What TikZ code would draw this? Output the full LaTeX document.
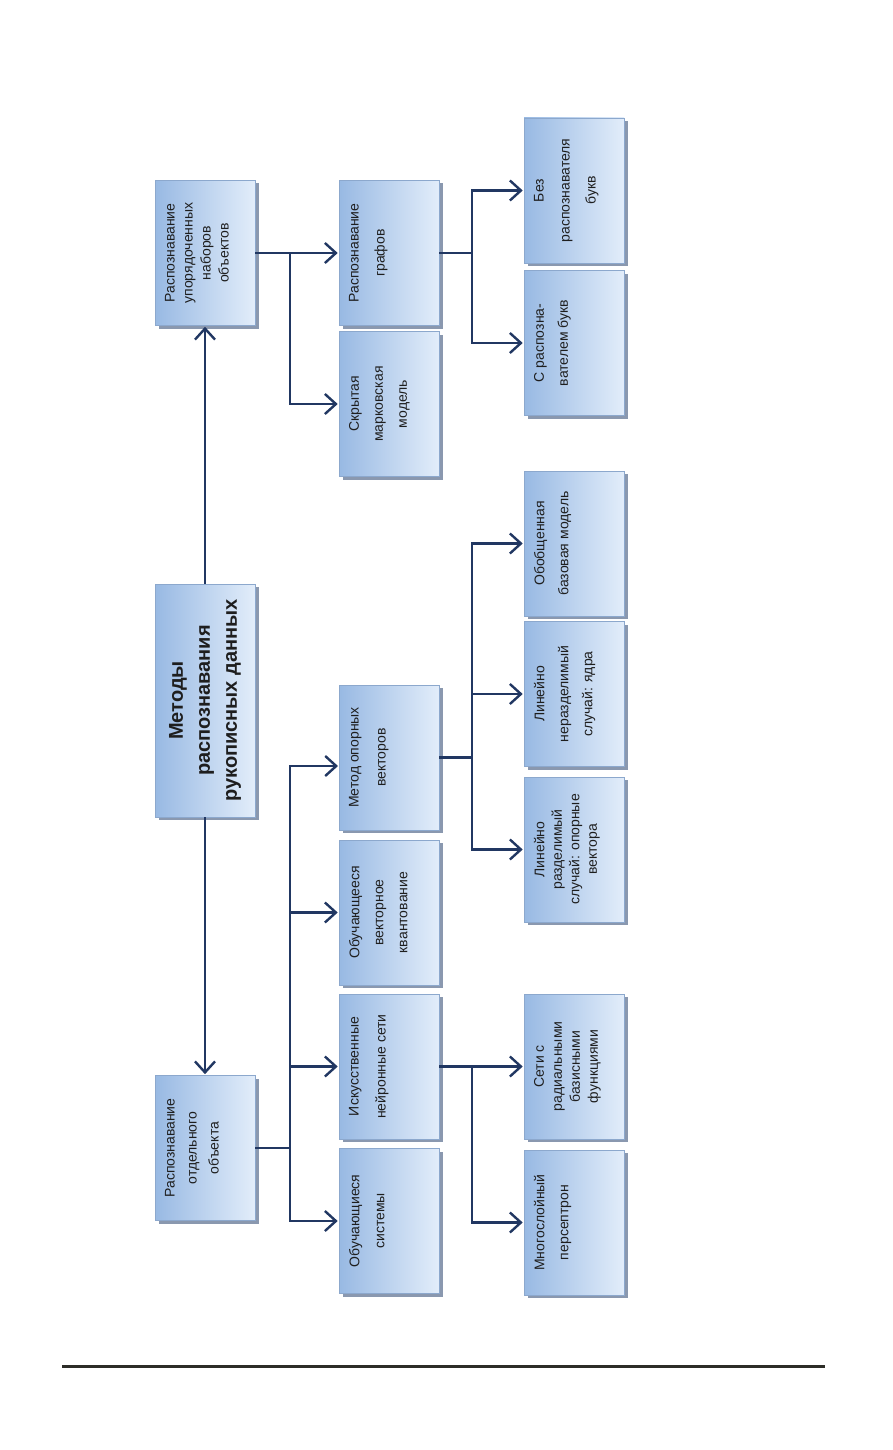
\documentclass[tikz,border=0pt]{standalone}
\usepackage{fontspec}
\setmainfont{Liberation Sans}
\usetikzlibrary{arrows.meta,shadows}
\definecolor{boxl}{RGB}{152,185,227}
\definecolor{boxr}{RGB}{226,237,250}
\definecolor{boxd}{RGB}{140,168,205}
\definecolor{shad}{RGB}{138,152,175}
\definecolor{linec}{RGB}{33,55,98}
\definecolor{txtc}{RGB}{30,30,30}
\definecolor{rulec}{RGB}{45,45,40}
\newcommand{\vtext}[2]{\rotatebox{90}{\parbox[c][80pt][t]{135pt}{\centering\fontsize{14}{#1}\selectfont #2}}}
\tikzset{
  mbox/.style={draw=boxd, line width=0.6pt, left color=boxl, right color=boxr,
    minimum width=100pt, minimum height=145pt, inner sep=0pt, text=txtc,
    drop shadow={shadow xshift=3.5pt, shadow yshift=-3pt, fill=shad, opacity=1}},
  arr/.style={draw=linec, line width=2.5pt, shorten >=1pt,
    -{Straight Barb[length=11pt,width=20pt,line width=2.4pt]}},
  ln/.style={draw=linec, line width=2.5pt}
}
\begin{document}
\begin{tikzpicture}[x=1pt,y=-1pt]
\fill[white] (0,0) rectangle (892,1450);
\useasboundingbox (0,0) rectangle (892,1450);
% column 1
\node[mbox] (A) at (205,253) {\vtext{18}{Распознавание\\упорядоченных\\наборов\\объектов}};
\node[mbox, minimum height=233pt] (root) at (205,700.5) {\rotatebox{90}{\parbox{225pt}{\centering\bfseries\fontsize{20}{27}\selectfont Методы\\распознавания\\рукописных данных}}};
\node[mbox] (B) at (205,1148) {\vtext{22}{Распознавание\\отдельного\\объекта}};
% column 2
\node[mbox] (graf) at (389,253) {\vtext{26}{Распознавание\\графов}};
\node[mbox] (skr) at (389,404) {\vtext{24}{Скрытая\\марковская\\модель}};
\node[mbox] (svm) at (389,757.5) {\vtext{27}{Метод опорных\\векторов}};
\node[mbox] (ovk) at (389,912.5) {\vtext{24}{Обучающееся\\векторное\\квантование}};
\node[mbox] (ins) at (389,1066.5) {\vtext{27}{Искусственные\\нейронные сети}};
\node[mbox] (obs) at (389,1221) {\vtext{25}{Обучающиеся\\системы}};
% column 3
\node[mbox] (bez) at (574,190.5) {\vtext{26}{Без\\распознавателя\\букв}};
\node[mbox] (sr) at (574,343) {\vtext{24}{С распозна-\\вателем букв}};
\node[mbox] (obob) at (574,543.5) {\vtext{24}{Обобщенная\\базовая модель}};
\node[mbox] (nerazd) at (574,694) {\vtext{24}{Линейно\\неразделимый\\случай: ядра}};
\node[mbox] (razd) at (574,849.5) {\vtext{17.5}{Линейно\\разделимый\\случай: опорные\\вектора}};
\node[mbox] (seti) at (574,1066.5) {\vtext{18}{Сети с\\радиальными\\базисными\\функциями}};
\node[mbox] (mnog) at (574,1222.5) {\vtext{24}{Многослойный\\персептрон}};
% connectors from root
\draw[arr] (root.north) -- (A.south);
\draw[arr] (root.south) -- (B.north);
% A branch
\coordinate (ja) at (290,253);
\draw[arr] (A.east) -- (graf.west);
\draw[arr] (ja) |- (skr.west);
% graf branch
\coordinate (jg) at (472,253);
\draw[ln] (graf.east) -- (jg);
\draw[arr] (jg) |- (bez.west);
\draw[arr] (jg) |- (sr.west);
% B branch
\coordinate (jb) at (290,1148);
\coordinate (svmin) at (339,766);
\draw[ln] (B.east) -- (jb);
\draw[arr] (jb) |- (svmin);
\draw[arr] (jb) |- (ovk.west);
\draw[arr] (jb) |- (ins.west);
\draw[arr] (jb) |- (obs.west);
% svm branch
\coordinate (js) at (472,757.5);
\draw[ln] (svm.east) -- (js);
\draw[arr] (js) |- (obob.west);
\draw[arr] (js) |- (nerazd.west);
\draw[arr] (js) |- (razd.west);
% ins branch
\coordinate (ji) at (472,1066.5);
\draw[arr] (ins.east) -- (seti.west);
\draw[arr] (ji) |- (mnog.west);
% bottom rule
\coordinate (r1) at (62,1366);
\coordinate (r2) at (825,1366);
\draw[rulec, line width=3pt] (r1) -- (r2);
\end{tikzpicture}
\end{document}
